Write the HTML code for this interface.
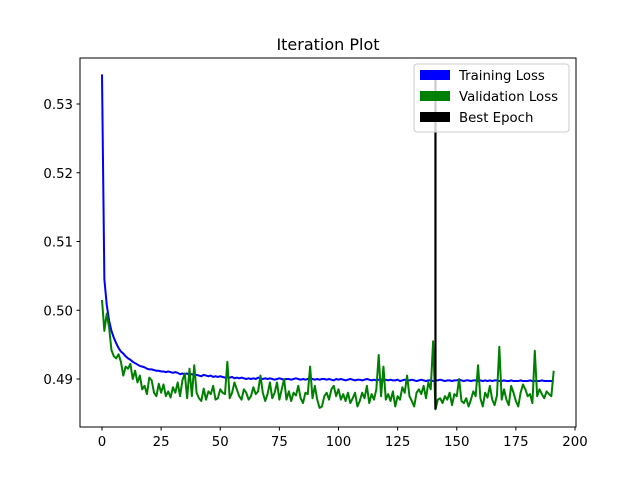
<!DOCTYPE html>
<html><head><meta charset="utf-8"><style>
body{margin:0;background:#fff;}
svg{display:block;font-family:"DejaVu Sans","Liberation Sans",sans-serif;}
</style></head><body>
<svg id="chart" width="640" height="480">
<rect width="640" height="480" fill="#fff"/>
<text x="328" y="50" text-anchor="middle" font-size="16">Iteration Plot</text>
<g id="plot"></g>
<rect x="80" y="58" width="496" height="369" fill="none" stroke="#000" stroke-width="1"/>
<g id="axes"></g>
<g>
<rect x="414" y="64" width="155" height="68" rx="3" fill="#fff" fill-opacity="0.8" stroke="#ccc"/>
<g><rect x="420" y="70" width="30" height="10" fill="#0000ff"/><text x="459" y="80" font-size="13.3">Training Loss</text></g>
<g><rect x="420" y="91" width="30" height="10" fill="#008000"/><text x="459" y="101" font-size="13.3">Validation Loss</text></g>
<g><rect x="420" y="112" width="30" height="10" fill="#000"/><text x="459" y="122" font-size="13.3">Best Epoch</text></g>
</g>
</svg>
<script>
const training=[.5343,.5045,.5008,.4985,.4970,.4960,.4952,.4945,.4940,.4937,
.4933,.4930,.4928,.4925,.4923,.4921,.4919,.4918,.4917,.4915,
.4914,.4914,.4913,.4912,.4912,.4911,.4911,.4910,.4911,.4910,
.4909,.4910,.4909,.4907,.4908,.4907,.4908,.4906,.4907,.4905,
.4906,.4905,.4904,.4906,.4905,.4904,.4905,.4903,.4904,.4903,
.4904,.4903,.4902,.4903,.4902,.4903,.4901,.4902,.4901,.4902,
.4901,.4900,.4901,.4900,.4901,.4900,.4902,.4901,.4900,.4901,
.4900,.4901,.4900,.4899,.4900,.4901,.4900,.4899,.4900,.4900,
.4899,.4900,.4901,.4900,.4899,.4900,.4899,.4900,.4901,.4900,
.4899,.4900,.4899,.4900,.4900,.4899,.4900,.4899,.4898,.4900,
.4899,.4900,.4899,.4898,.4899,.4900,.4899,.4898,.4899,.4899,
.4898,.4899,.4900,.4899,.4898,.4899,.4898,.4899,.4899,.4898,
.4899,.4898,.4899,.4898,.4898,.4899,.4897,.4898,.4899,.4898,
.4898,.4899,.4898,.4897,.4898,.4899,.4898,.4897,.4898,.4898,
.4897,.4898,.4898,.4899,.4898,.4897,.4898,.4898,.4897,.4898,
.4898,.4899,.4898,.4897,.4898,.4898,.4897,.4898,.4898,.4897,
.4898,.4897,.4898,.4897,.4898,.4897,.4898,.4898,.4897,.4897,
.4898,.4897,.4897,.4898,.4897,.4897,.4897,.4898,.4897,.4897,
.4897,.4898,.4897,.4897,.4897,.4897,.4898,.4897,.4897,.4897,
.4897,.4897];
const validation=[.5015,.4970,.4995,.4975,.4942,.4933,.4930,.4936,.4925,.4905,
.4918,.4915,.4922,.4900,.4912,.4895,.4905,.4885,.4890,.4878,
.4902,.4898,.4880,.4875,.4893,.4880,.4892,.4875,.4882,.4873,
.4888,.4880,.4895,.4875,.4898,.4908,.4872,.4915,.4875,.4920,
.4880,.4872,.4868,.4886,.4870,.4882,.4878,.4890,.4870,.4872,
.4885,.4880,.4878,.4925,.4872,.4880,.4895,.4885,.4875,.4870,
.4885,.4880,.4870,.4875,.4888,.4878,.4882,.4905,.4880,.4868,
.4878,.4895,.4872,.4880,.4895,.4870,.4885,.4900,.4870,.4882,
.4868,.4880,.4876,.4890,.4872,.4865,.4880,.4878,.4918,.4872,
.4890,.4870,.4858,.4860,.4875,.4880,.4870,.4885,.4890,.4875,
.4885,.4870,.4878,.4868,.4880,.4865,.4872,.4880,.4860,.4868,
.4880,.4872,.4890,.4865,.4878,.4870,.4885,.4935,.4875,.4918,
.4870,.4878,.4868,.4882,.4860,.4875,.4870,.4888,.4880,.4905,
.4875,.4868,.4860,.4880,.4885,.4878,.4890,.4872,.4895,.4885,
.4955,.4856,.4870,.4872,.4865,.4875,.4870,.4880,.4862,.4878,
.4875,.4900,.4868,.4865,.4872,.4860,.4870,.4882,.4875,.4920,
.4872,.4860,.4880,.4873,.4890,.4870,.4862,.4876,.4947,.4870,
.4885,.4870,.4862,.4890,.4880,.4868,.4860,.4880,.4892,.4885,
.4875,.4878,.4865,.4941,.4875,.4885,.4878,.4872,.4882,.4878,
.4875,.4912];
const bestEpoch=141;
const xTicks=[0,25,50,75,100,125,150,175,200];
const yTicks=[0.49,0.50,0.51,0.52,0.53];
const NS="http://www.w3.org/2000/svg";
function xs(v){return 102+v*(575-102)/200;}
function ys(v){return 379-(v-0.49)*6875;}
const plot=document.getElementById('plot');
const axes=document.getElementById('axes');
function mk(t,a,p){const e=document.createElementNS(NS,t);for(const k in a)e.setAttribute(k,a[k]);p.appendChild(e);return e;}
function line(arr,color,name){
  const d=arr.map((v,i)=>(i?'L':'M')+xs(i).toFixed(2)+','+ys(v).toFixed(2)).join('');
  const p=mk('path',{d:d,fill:'none',stroke:color,'stroke-width':2,'stroke-linejoin':'round'},plot);
  
  
}
line(training,'#0000ff','training-loss-line');
line(validation,'#008000','validation-loss-line');
const bl=mk('line',{x1:xs(bestEpoch),x2:xs(bestEpoch),y1:ys(Math.min(...validation)),y2:ys(Math.max(...training)),stroke:'#000','stroke-width':2.2},plot);


xTicks.forEach(t=>{
  const g=mk('g',{},axes);
  
  
  mk('line',{x1:xs(t),x2:xs(t),y1:427,y2:430.5,stroke:'#000'},g);
  const tx=mk('text',{x:xs(t),y:446,'text-anchor':'middle','font-size':13.3},g);tx.textContent=t;
});
yTicks.forEach(t=>{
  const g=mk('g',{},axes);
  
  
  mk('line',{x1:76.5,x2:80,y1:ys(t),y2:ys(t),stroke:'#000'},g);
  const tx=mk('text',{x:73,y:ys(t)+5,'text-anchor':'end','font-size':13.3},g);tx.textContent=t.toFixed(2);
});
</script>
</body></html>
